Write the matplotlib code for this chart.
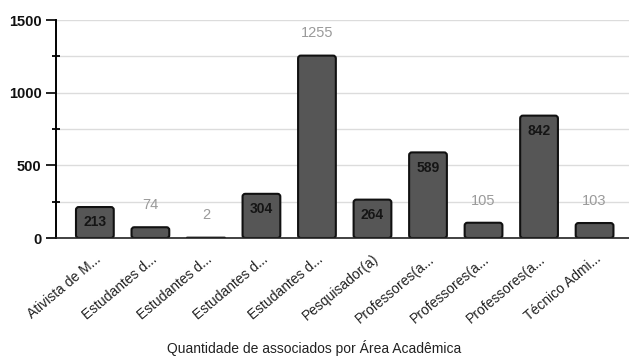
import matplotlib.pyplot as plt
from matplotlib.patches import FancyBboxPatch
from matplotlib.ticker import MultipleLocator

plt.rcParams["font.family"] = ["Liberation Sans", "DejaVu Sans"]

categories = [
    "Ativista de M...",
    "Estudantes d...",
    "Estudantes d...",
    "Estudantes d...",
    "Estudantes d...",
    "Pesquisador(a)",
    "Professores(a...",
    "Professores(a...",
    "Professores(a...",
    "Técnico Admi...",
]
counts = [213, 74, 2, 304, 1255, 264, 589, 105, 842, 103]
# which value labels sit inside the bar (the rest go above it)
label_inside = [True, False, False, True, False, True, True, False, True, False]

fig = plt.figure(figsize=(6.29, 3.58), dpi=100)
ax = fig.add_axes([56 / 629, 120 / 358, 1 - 56 / 629, 218 / 358])
ax.set_xlim(-0.7, 9.62)
ax.set_ylim(0, 1500)

x = list(range(len(categories)))
bars = ax.bar(x, counts, width=0.68, alpha=0)

# redraw each bar as a box with slightly rounded corners
fig.canvas.draw()
bb = ax.get_window_extent()
px_x = bb.width / (9.62 + 0.7)
px_y = bb.height / 1500
aspect = px_x / px_y
for b in bars:
    h = b.get_height()
    r = min(0.05, 0.5 * h / aspect)
    patch = FancyBboxPatch((b.get_x(), 0), b.get_width(), h,
                           boxstyle=f"round,pad=0,rounding_size={r}",
                           mutation_aspect=aspect, facecolor="#565656",
                           edgecolor="#111111", linewidth=1.5, zorder=3)
    ax.add_patch(patch)

for xi, v, inside in zip(x, counts, label_inside):
    if inside:
        ax.annotate(str(v), (xi, v), xytext=(0, -11), textcoords="offset points",
                    ha="center", va="center", fontsize=10, fontweight="bold",
                    color="#151515", zorder=4)
    else:
        ax.annotate(str(v), (xi, v), xytext=(0, 16), textcoords="offset points",
                    ha="center", va="center", fontsize=10.5, color="#9a9a9a",
                    zorder=4)

ax.yaxis.set_major_locator(MultipleLocator(500))
ax.yaxis.set_minor_locator(MultipleLocator(250))
ax.grid(axis="y", which="both", color="#dcdcdc", linewidth=1, zorder=0)
ax.tick_params(axis="y", which="major", length=7, width=1.3, labelsize=10.5,
               colors="#111111")
ax.tick_params(axis="y", which="minor", length=6, width=1.3, direction="inout")
ax.tick_params(axis="x", length=0, pad=10)
for t in ax.get_yticklabels():
    t.set_fontweight("bold")

for s in ["top", "right"]:
    ax.spines[s].set_visible(False)
ax.spines["left"].set_linewidth(1.4)
ax.spines["bottom"].set_color("#222222")
ax.spines["bottom"].set_linewidth(1.2)
ax.spines["bottom"].set_zorder(5)

ax.set_xticks(x)
ax.set_xticklabels(categories, rotation=40, ha="right", rotation_mode="anchor",
                   fontsize=10, color="#222222")
fig.text(0.5, 10 / 358, "Quantidade de associados por Área Acadêmica",
         ha="center", va="center", fontsize=10, color="#222222")

fig.savefig("out.png", dpi=100)
